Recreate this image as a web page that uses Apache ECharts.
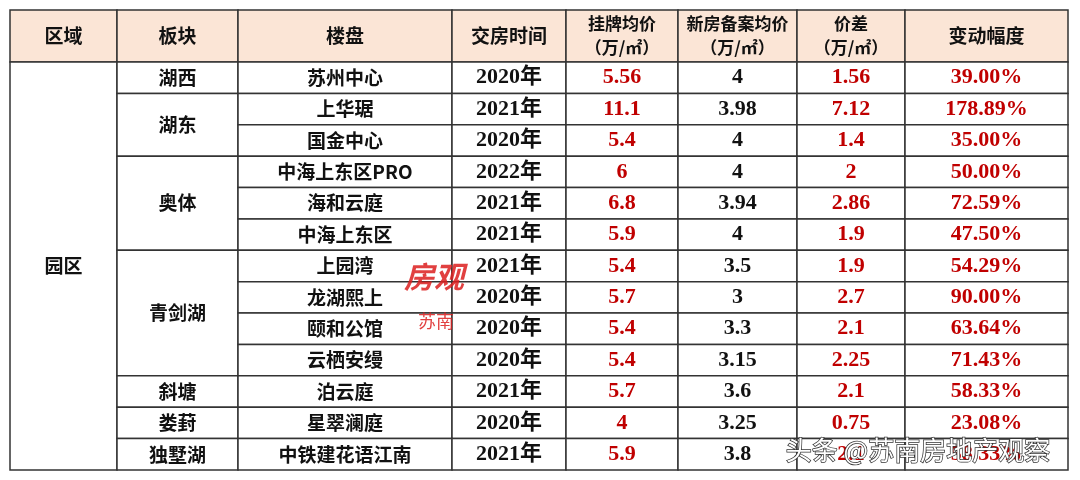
<!DOCTYPE html>
<html>
<head>
<meta charset="UTF-8">
<script src="https://cdn.jsdelivr.net/npm/echarts@6/dist/echarts.min.js"></script>
</head>
<body style="margin:0">
<div id="main" style="width:1080px;height:480px;"></div>
<script>
var headers = ['区域', '板块', '楼盘', '交房时间', '挂牌均价\n（万/㎡）', '新房备案均价\n（万/㎡）', '价差\n（万/㎡）', '变动幅度'];
var blocks = [['湖西', 1], ['湖东', 2], ['奥体', 3], ['青剑湖', 4], ['斜塘', 1], ['娄葑', 1], ['独墅湖', 1]];
var projects = ['苏州中心', '上华琚', '国金中心', '中海上东区PRO', '海和云庭', '中海上东区', '上园湾', '龙湖熙上', '颐和公馆', '云栖安缦', '泊云庭', '星翠澜庭', '中铁建花语江南'];
var years = ['2020年', '2021年', '2020年', '2022年', '2021年', '2021年', '2021年', '2020年', '2020年', '2020年', '2021年', '2020年', '2021年'];
var listPrice = ['5.56', '11.1', '5.4', '6', '6.8', '5.9', '5.4', '5.7', '5.4', '5.4', '5.7', '4', '5.9'];
var newPrice = ['4', '3.98', '4', '4', '3.94', '4', '3.5', '3', '3.3', '3.15', '3.6', '3.25', '3.8'];
var diff = ['1.56', '7.12', '1.4', '2', '2.86', '1.9', '1.9', '2.7', '2.1', '2.25', '2.1', '0.75', '2.1'];
var change = ['39.00%', '178.89%', '35.00%', '50.00%', '72.59%', '47.50%', '54.29%', '90.00%', '63.64%', '71.43%', '58.33%', '23.08%', '58.33%'];

// 表格布局
var colEdges = [10, 117, 238, 452, 566, 678, 797, 905, 1068];
var top0 = 10, headBottom = 62, bottom0 = 470;
var nRows = projects.length;
var rowH = (bottom0 - headBottom) / nRows;
var RED = '#c00000', INK = '#111';

var cells = [];
function addCell(c, r0, r1, text, color, bg, head) {
  var y0 = r0 < 0 ? top0 : headBottom + r0 * rowH;
  var y1 = r1 < 0 ? headBottom : headBottom + r1 * rowH;
  cells.push([colEdges[c], colEdges[c + 1], y0, y1, text, color, bg, head ? 1 : 0]);
}
headers.forEach(function (h, i) { addCell(i, -1, -1, h, INK, '#fbe5d6', true); });
addCell(0, 0, nRows, '园区', INK, '#fff', true);
var r = 0;
blocks.forEach(function (b) { addCell(1, r, r + b[1], b[0], INK, '#fff', true); r += b[1]; });
for (var i = 0; i < nRows; i++) {
  addCell(2, i, i + 1, projects[i], INK, '#fff', true);
  addCell(3, i, i + 1, years[i], INK, '#fff', false);
  addCell(4, i, i + 1, listPrice[i], RED, '#fff', false);
  addCell(5, i, i + 1, newPrice[i], INK, '#fff', false);
  addCell(6, i, i + 1, diff[i], RED, '#fff', false);
  addCell(7, i, i + 1, change[i], RED, '#fff', false);
}

var myChart = echarts.init(document.getElementById('main'));
var option = {
  backgroundColor: '#fff',
  animation: false,
  grid: { left: 0, right: 0, top: 0, bottom: 0 },
  xAxis: { type: 'value', min: 0, max: 1080, show: false },
  yAxis: { type: 'value', min: 0, max: 480, inverse: true, show: false },
  series: [{
    type: 'custom',
    z: 2,
    data: cells,
    renderItem: function (params, api) {
      var p0 = api.coord([api.value(0), api.value(2)]);
      var p1 = api.coord([api.value(1), api.value(3)]);
      var d = cells[params.dataIndex];
      var head = d[7] === 1;
      var multi = d[4].indexOf('\n') >= 0;
      return {
        type: 'rect',
        shape: { x: p0[0], y: p0[1], width: p1[0] - p0[0], height: p1[1] - p0[1] },
        style: { fill: d[6], stroke: '#333', lineWidth: 1.5 },
        textContent: {
          style: {
            text: d[4],
            fill: d[5],
            fontFamily: head ? 'Noto Sans CJK SC' : 'Liberation Serif, Noto Sans CJK SC, serif',
            fontWeight: 'bold',
            fontSize: head ? (multi ? 17 : 19) : 22,
            lineHeight: multi ? 24 : 26,
            align: 'center'
          }
        },
        textConfig: { position: 'inside' }
      };
    }
  }],
  graphic: [
    { type: 'text', z: 100, left: 404, top: 262, style: { text: '房观', fill: 'rgba(220,30,30,0.85)', fontSize: 30, fontWeight: 'bold', fontStyle: 'italic', fontFamily: 'Noto Sans CJK SC' } },
    { type: 'text', z: 100, left: 418, top: 312, style: { text: '苏南', fill: 'rgba(220,30,30,0.85)', fontSize: 18, fontFamily: 'Noto Sans CJK SC' } },
    { type: 'text', z: 100, left: 785, top: 436, style: { text: '头条 @苏南房地产观察', fill: '#fff', stroke: '#333', lineWidth: 1.5, fontSize: 26, fontFamily: 'Noto Sans CJK SC' } }
  ]
};
myChart.setOption(option);
</script>
</body>
</html>
